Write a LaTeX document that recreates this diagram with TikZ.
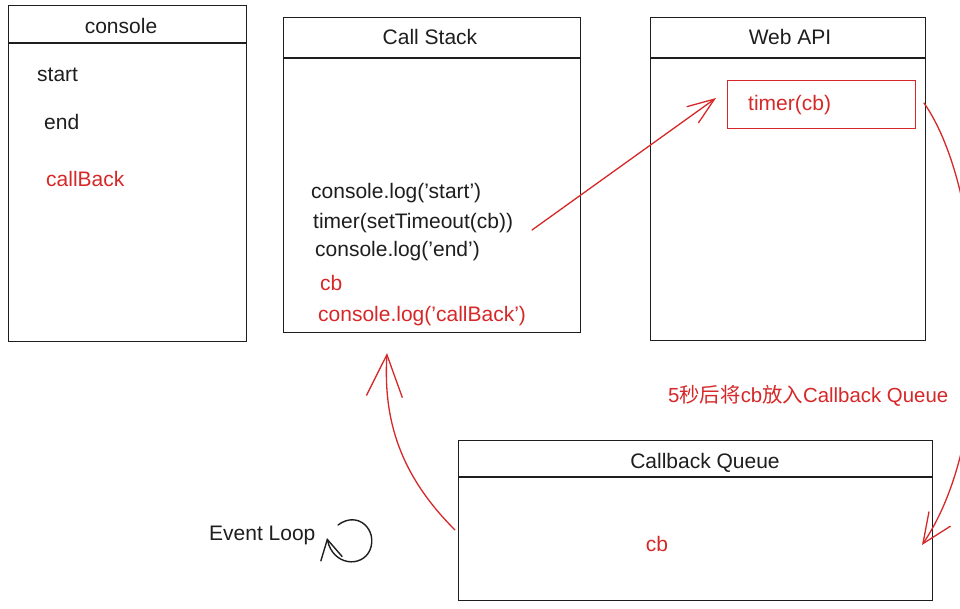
\documentclass[tikz,border=0pt]{standalone}
\usepackage{fontspec}
\setmainfont{Liberation Sans}
\newfontfamily\cjk{Noto Sans CJK SC}
\usetikzlibrary{arrows.meta}
\definecolor{rd}{HTML}{D62828}
\definecolor{ink}{HTML}{1E1E1E}
\begin{document}
\begin{tikzpicture}[x=1pt,y=-1pt,
  box/.style={draw=ink, line width=1.3pt, inner sep=0pt, anchor=north west},
  rbox/.style={draw=rd, line width=1.2pt, inner sep=0pt, anchor=north west},
  lbl/.style={font=\fontsize{21}{23}\selectfont, text=ink, inner sep=0pt},
  rlbl/.style={lbl, text=rd},
  redline/.style={draw=rd, line width=1.3pt, line cap=round, line join=round},
  blackline/.style={draw=ink, line width=1.4pt, line cap=round, line join=round},
  ]
\useasboundingbox (0,0) rectangle (960,608);
\fill[white] (0,0) rectangle (960,608);
\clip (0,0) rectangle (960,608);

% boxes
\node[box, minimum width=238pt, minimum height=336pt] (con) at (8,5) {};
\draw[box] ([yshift=-38pt]con.north west) -- ([yshift=-38pt]con.north east);
\node[box, minimum width=297pt, minimum height=315pt] (cs) at (283,17) {};
\draw[box] ([yshift=-41pt]cs.north west) -- ([yshift=-41pt]cs.north east);
\node[box, minimum width=275pt, minimum height=323pt] (api) at (650,17) {};
\draw[box] ([yshift=-41pt]api.north west) -- ([yshift=-41pt]api.north east);
\node[rbox, minimum width=188pt, minimum height=48pt] (tm) at (727,80) {};
\node[box, minimum width=474pt, minimum height=160pt] (cq) at (458,440) {};
\draw[box] ([yshift=-37pt]cq.north west) -- ([yshift=-37pt]cq.north east);

% titles
\node[lbl] (tcon) at (121,26) {console};
\node[lbl] (tcs) at (430,37) {Call Stack};
\node[lbl] (tapi) at (790,37) {Web API};
\node[lbl] (tcq) at (705,463) {Callback Queue};

% console contents
\node[lbl, anchor=west] (o1) at (37,75) {start};
\node[lbl, anchor=west] (o2) at (44,122) {end};
\node[rlbl, anchor=west] (o3) at (46,179) {callBack};

% call stack contents
\node[lbl, anchor=west] (s1) at (311,193) {console.log('start')};
\node[lbl, anchor=west] (s2) at (313,223) {timer(setTimeout(cb))};
\node[lbl, anchor=west] (s3) at (315,251) {console.log('end')};
\node[rlbl, anchor=west] (s4) at (320,283) {cb};
\node[rlbl, anchor=west] (s5) at (318,316) {console.log('callBack')};

% web api contents
\node[rlbl, anchor=west] (tmt) at (748,105) {timer(cb)};

% queue contents
\node[rlbl] (qcb) at (657,544) {cb};

% label
\node[rlbl, anchor=west, font=\fontsize{20.4}{22}\selectfont] (lab) at (668,396) {5{\cjk 秒后将}cb{\cjk 放入}Callback Queue};

% event loop
\node[lbl, anchor=west] (ev) at (209,535) {Event Loop};

% connectors
\coordinate (a1s) at (532,230);
\coordinate (a1e) at (716,98);
\draw[redline, -{Straight Barb[length=27pt,width=20pt,line width=1.3pt]}] (a1s) -- (a1e);

\coordinate (a2s) at (924,103);
\coordinate (a2e) at (922,545);
\draw[redline, -{Straight Barb[length=30pt,width=26pt,line width=1.3pt]}] (a2s) .. controls (985,190) and (1000,430) .. (a2e);

\coordinate (a3s) at (455,530);
\coordinate (a3e) at (387,353);
\draw[redline, -{Straight Barb[length=42pt,width=36pt,line width=1.3pt]}] (a3s) .. controls (400,475) and (383,420) .. (a3e);

\coordinate (l1) at (338,525);
\coordinate (l2) at (327,538);
\draw[blackline, -{Straight Barb[length=20pt,width=22pt,line width=1.4pt]}] (l1) .. controls (358,510) and (378,530) .. (370,550) .. controls (362,568) and (333,566) .. (l2);
\end{tikzpicture}
\end{document}
